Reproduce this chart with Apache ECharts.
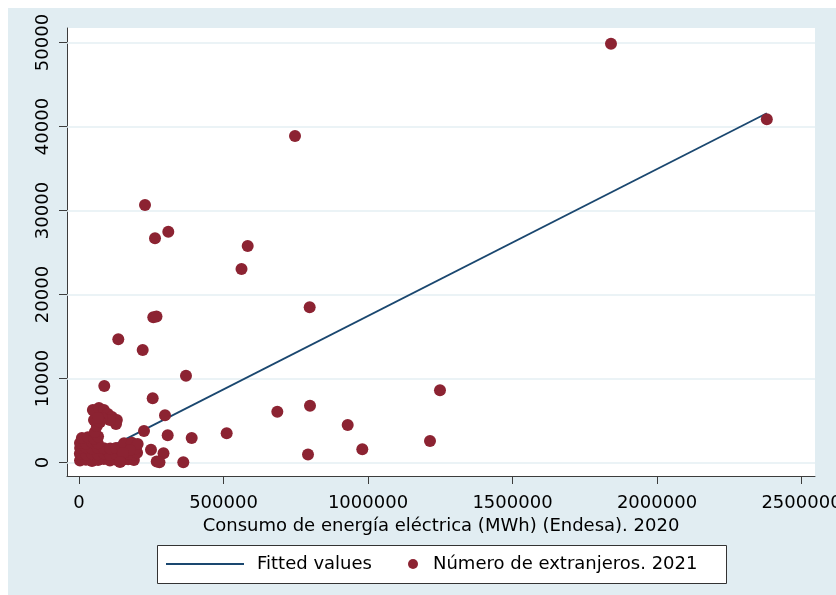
<!DOCTYPE html>
<html>
<head>
<meta charset="utf-8">
<script src="https://cdn.jsdelivr.net/npm/echarts@6/dist/echarts.min.js"></script>
<style>
  html, body { margin: 0; padding: 0; background: #ffffff; }
  #chart { width: 836px; height: 595px; }
</style>
</head>
<body>
<div id="chart"></div>
<script>
// Electricity consumption (MWh, Endesa, 2020) per municipality
const consumoMWh = [
  // dense group of small municipalities
  3500, 24000, 45000, 66000, 86000, 107000, 128000, 149000, 170000, 190000,
  3000, 25000, 44000, 66000, 87000, 107000, 128000, 149000, 169000, 190000, 201000,
  4000, 24000, 45000, 65000, 86000, 108000, 128000, 149000, 176000, 197000,
  3500, 24000, 45000, 65000, 156000, 183000,
  10000, 31000, 52000, 66000,
  55000, 62000, 52000, 59000, 48000, 69000, 86000, 100000, 114000, 131000,
  128000, 107000, 80000, 73000, 66000,
  203000, 176500, 152000, 142000,
  // larger municipalities
  1840800, 2380000, 747400, 583700, 562300, 228400, 309000, 263000,
  257100, 268200, 798200, 370200, 255000, 297600, 686200, 799300,
  1249100, 929700, 1214500, 980300, 792400, 511000, 389900, 306900,
  249100, 292400, 268900, 278500, 360900, 87500, 136000, 220400, 224900
];

// Number of foreign residents (2021) per municipality
const extranjeros = [
  250, 340, 180, 290, 410, 230, 330, 260, 380, 300,
  1050, 960, 1100, 980, 1060, 900, 1020, 1000, 1080, 930, 1150,
  1720, 1800, 1650, 1760, 1700, 1680, 1740, 1620, 1760, 1700,
  2330, 2250, 2400, 2300, 2280, 2350,
  2920, 3000, 2850, 3100,
  3630, 4350, 5060, 5770, 6250, 6490, 6250, 5770, 5420, 5060,
  4580, 5060, 5300, 4820, 5300,
  2200, 1490, 1130, 50,
  49860, 40860, 38870, 25780, 23040, 30650, 27480, 26690,
  17290, 17380, 18480, 10330, 7640, 5620, 6050, 6760,
  8600, 4460, 2560, 1570, 950, 3480, 2920, 3240,
  1520, 1100, 120, 30, 30, 9110, 14670, 13390, 3750
];

// Linear fit end points
const fitX = [1500, 2380000];
const fitY = [-10, 41570];

const xTicks = [0, 500000, 1000000, 1500000, 2000000, 2500000];
const yTicks = [0, 10000, 20000, 30000, 40000, 50000];

const xTitle = 'Consumo de energía eléctrica (MWh) (Endesa). 2020';
const fitName = 'Fitted values';
const pointsName = 'Número de extranjeros. 2021';

const FONT = 'DejaVu Sans';
const AXIS_COLOR = '#3c3c3c';
const LINE_COLOR = '#1a476f';
const DOT_COLOR = '#8c2332';

const points = consumoMWh.map((x, i) => [x, extranjeros[i]]);
const fitLine = fitX.map((x, i) => [x, fitY[i]]);

const chart = echarts.init(document.getElementById('chart'), null, { renderer: 'canvas' });

chart.setOption({
  animation: false,
  backgroundColor: '#ffffff',
  graphic: [
    {
      type: 'rect', z: -10, silent: true,
      shape: { x: 8, y: 8, width: 828, height: 587 },
      style: { fill: '#e1edf2' }
    },
    {
      type: 'rect', z: 3, silent: true,
      shape: { x: 157.5, y: 545.5, width: 569, height: 38 },
      style: { fill: '#ffffff', stroke: '#333333', lineWidth: 1 }
    }
  ],
  grid: {
    left: 67, top: 28, right: 21, bottom: 119,
    outerBoundsMode: 'none', containLabel: false,
    show: true, backgroundColor: '#ffffff', borderWidth: 0
  },
  legend: [
    {
      left: 166, top: 555, padding: 0,
      itemWidth: 78, itemHeight: 2,
      data: [{ name: fitName, icon: 'rect', itemStyle: { color: LINE_COLOR } }],
      textStyle: { fontFamily: FONT, fontSize: 18, color: '#000', padding: [0, 0, 0, 8] }
    },
    {
      left: 408, top: 555, padding: 0,
      itemWidth: 10, itemHeight: 10,
      data: [{ name: pointsName, icon: 'circle', itemStyle: { color: DOT_COLOR } }],
      textStyle: { fontFamily: FONT, fontSize: 18, color: '#000', padding: [0, 0, 0, 10] }
    }
  ],
  xAxis: {
    type: 'value',
    min: -41500, max: 2546700,
    axisLine: { show: true, onZero: false, lineStyle: { color: AXIS_COLOR, width: 1 } },
    axisTick: { show: true, length: 8, customValues: xTicks, lineStyle: { color: AXIS_COLOR } },
    axisLabel: {
      customValues: xTicks, fontFamily: FONT, fontSize: 18, color: '#000', margin: 18,
      formatter: v => String(v)
    },
    splitLine: { show: false },
    name: xTitle, nameLocation: 'middle', nameGap: 32,
    nameTextStyle: { fontFamily: FONT, fontSize: 18, color: '#000' }
  },
  yAxis: {
    type: 'value',
    min: -1607, max: 51727,
    axisLine: { show: true, onZero: false, lineStyle: { color: AXIS_COLOR, width: 1 } },
    axisTick: { show: true, length: 8, customValues: yTicks, lineStyle: { color: AXIS_COLOR } },
    axisLabel: {
      customValues: yTicks, rotate: 90, fontFamily: FONT, fontSize: 18, color: '#000', margin: 15,
      formatter: v => String(v)
    },
    splitLine: { show: false }
  },
  series: [
    {
      // horizontal grid lines at the y ticks, kept beneath the data
      name: 'grid',
      type: 'line',
      data: [],
      z: 1,
      silent: true,
      markLine: {
        z: 1,
        silent: true, symbol: 'none', animation: false,
        label: { show: false },
        lineStyle: { color: '#e4eff3', width: 1.5, type: 'solid' },
        data: yTicks.map(v => ({ yAxis: v }))
      }
    },
    {
      name: fitName,
      type: 'line',
      data: fitLine,
      z: 2,
      showSymbol: false,
      symbol: 'none',
      lineStyle: { color: LINE_COLOR, width: 1.8 },
      itemStyle: { color: LINE_COLOR }
    },
    {
      name: pointsName,
      type: 'scatter',
      data: points,
      z: 3,
      symbol: 'circle',
      symbolSize: 12,
      itemStyle: { color: DOT_COLOR, opacity: 1 }
    }
  ]
});
</script>
</body>
</html>
